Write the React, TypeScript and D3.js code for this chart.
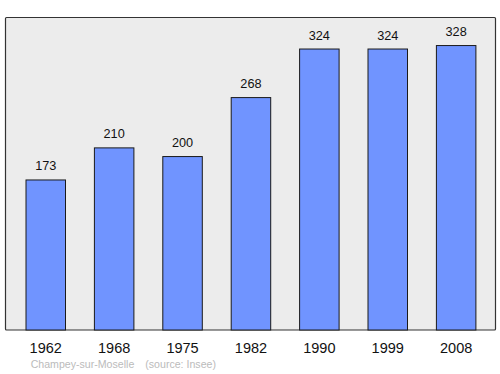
import React from "react";
import * as d3 from "d3";

const years = ["1962", "1968", "1975", "1982", "1990", "1999", "2008"];
const population = [173, 210, 200, 268, 324, 324, 328];
const footerCommune = "Champey-sur-Moselle";
const footerSource = "(source: Insee)";

export default function App() {
  const W = 500, H = 374;
  const font = "Liberation Sans, Arial, sans-serif";
  const x = d3.scaleBand<string>().domain(years).range([26, 475.9]).paddingInner(0.4225).paddingOuter(0);
  const y = d3.scaleLinear().domain([0, 360]).range([330, 17.8]);
  const bw = x.bandwidth();
  return (
    <svg width={W} height={H} style={{ position: "absolute", left: 0, top: 0 }}>
      <rect x={5.5} y={17.5} width={490} height={312.5} fill="#ececec" stroke="#333" strokeWidth={1.2} rx={1} />
      {population.map((v, i) => {
        const xi = x(years[i]) as number;
        return (
          <g key={years[i]}>
            <rect x={xi} y={y(v)} width={bw} height={y(0) - y(v)} fill="#7094ff" stroke="#1a1a1a" strokeWidth={1} />
            <text x={xi + bw / 2} y={y(v) - 9.5} textAnchor="middle" fontFamily={font} fontSize={12.7} fill="#111">{v}</text>
            <text x={xi + bw / 2} y={352.5} textAnchor="middle" fontFamily={font} fontSize={14.5} fill="#111">{years[i]}</text>
          </g>
        );
      })}
      <text x={30.7} y={367.5} fontFamily={font} fontSize={10.6} fill="#bbb">{footerCommune}</text>
      <text x={145.3} y={367.5} fontFamily={font} fontSize={10.6} fill="#bbb">{footerSource}</text>
    </svg>
  );
}
